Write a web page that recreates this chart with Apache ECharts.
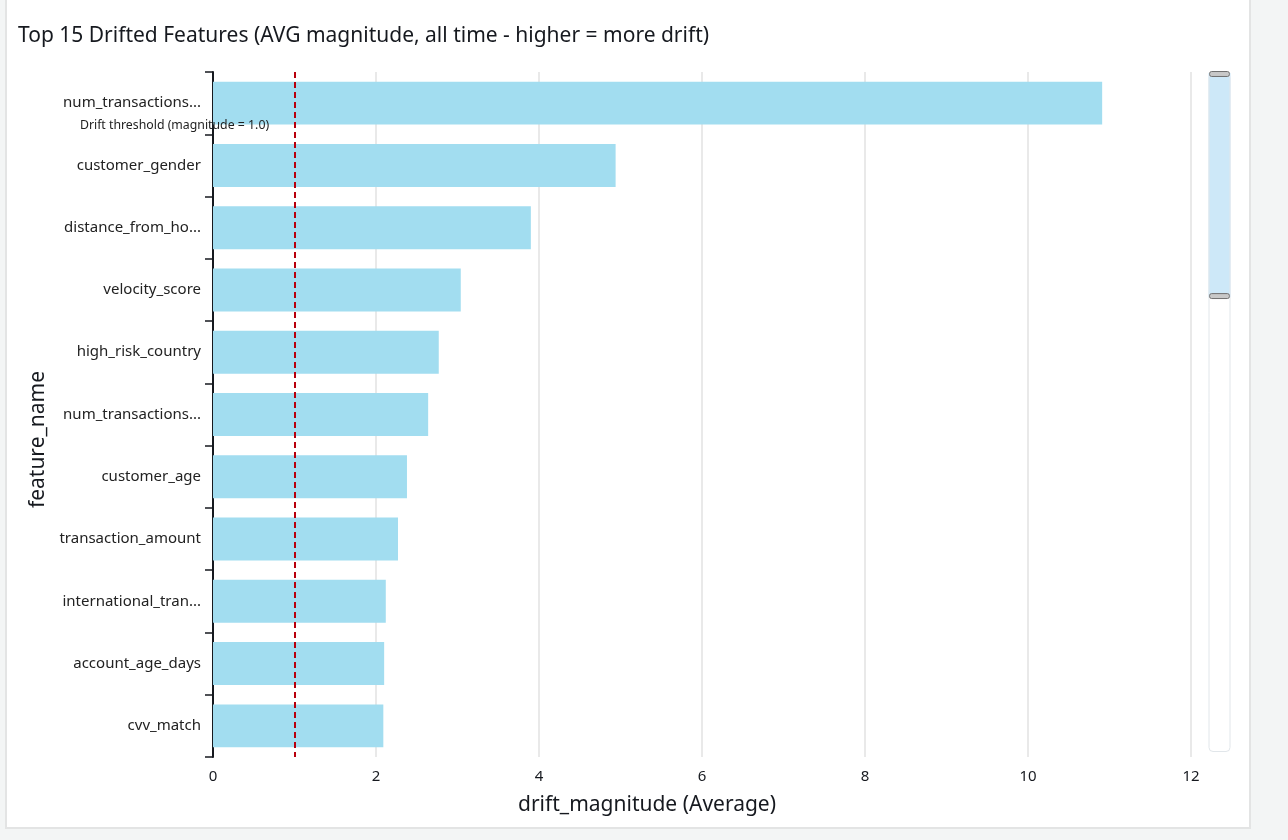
<!DOCTYPE html>
<html>
<head>
<meta charset="utf-8">
<script src="https://cdn.jsdelivr.net/npm/echarts@6/dist/echarts.min.js"></script>
<style>
  html, body { margin: 0; padding: 0; background: #f3f5f5; }
  #panel { position: absolute; left: 5px; top: -2px; width: 1242px; height: 827px;
           border: 2px solid #e3e4e4; background: #fff; }
  #main { position: absolute; left: 0; top: 0; width: 1288px; height: 840px; }
</style>
</head>
<body>
<div id="panel"></div>
<div id="main"></div>
<script>
// feature names, highest drift first
const features = [
  'num_transactions_last_24h',
  'customer_gender',
  'distance_from_home',
  'velocity_score',
  'high_risk_country',
  'num_transactions_last_7d',
  'customer_age',
  'transaction_amount',
  'international_transaction',
  'account_age_days',
  'cvv_match'
];
// average drift magnitude
const magnitude = [10.91, 4.94, 3.90, 3.04, 2.77, 2.64, 2.38, 2.27, 2.12, 2.10, 2.09];
const threshold = 1.0;
const xTicks = { min: 0, max: 12, interval: 2 };

const textColor = '#16191f';
const font = 'Noto Sans';

let chart = echarts.init(document.getElementById('main'), null, { renderer: 'canvas' });

let option = {
  animation: false,
  textStyle: { fontFamily: font },
  title: {
    text: 'Top 15 Drifted Features (AVG magnitude, all time - higher = more drift)',
    left: 13,
    top: 21,
    textStyle: { fontSize: 21, fontWeight: 'normal', color: textColor, fontFamily: font }
  },
  grid: { left: 213, right: 97, top: 72, bottom: 83 },
  xAxis: {
    type: 'value',
    min: xTicks.min,
    max: xTicks.max,
    interval: xTicks.interval,
    name: 'drift_magnitude (Average)',
    nameLocation: 'middle',
    nameGap: 38,
    nameTextStyle: { fontSize: 21, color: textColor, padding: [0, 110, 0, 0] },
    axisLine: { show: false },
    axisTick: { show: false },
    axisLabel: { fontSize: 15, color: textColor, margin: 12 },
    splitLine: {
      show: true,
      lineStyle: { color: '#e2e2e2', width: 1.5 },
      showMinLine: false
    }
  },
  yAxis: [
    {
      type: 'category',
      inverse: true,
      data: features,
      name: 'feature_name',
      nameLocation: 'middle',
      nameGap: 163,
      nameTextStyle: { fontSize: 21, color: textColor, padding: [0, 50, 0, 0] },
      axisLine: { show: true, lineStyle: { color: textColor, width: 2 } },
      axisTick: { show: true, length: 8, lineStyle: { color: textColor, width: 1.5 } },
      axisLabel: {
        fontSize: 15, color: '#222', margin: 12,
        width: 145, overflow: 'truncate', ellipsis: '...'
      }
    },
    {
      // helper axis only driving the scroll bar
      type: 'value',
      show: false,
      min: 0,
      max: 100
    }
  ],
  dataZoom: [
    {
      type: 'slider',
      yAxisIndex: 1,
      orient: 'vertical',
      start: 67,
      end: 100,
      right: 58,
      width: 22,
      top: 73,
      bottom: 88,
      showDetail: false,
      showDataShadow: false,
      brushSelect: false,
      moveHandleSize: 0,
      zoomLock: true,
      backgroundColor: '#fff',
      borderColor: '#e1e6ea',
      borderRadius: 4,
      fillerColor: 'rgba(164, 214, 242, 0.55)',
      dataBackground: { lineStyle: { opacity: 0 }, areaStyle: { opacity: 0 } },
      handleIcon: 'path://M2,0h1a2,2,0,0,1,2,2v16a2,2,0,0,1-2,2h-1a2,2,0,0,1-2-2v-16a2,2,0,0,1,2-2z',
      handleSize: '90%',
      handleStyle: { color: '#c8c8c8', borderColor: '#6f6f6f', borderWidth: 1 }
    }
  ],
  series: [
    {
      type: 'bar',
      data: magnitude,
      barCategoryGap: '31%',
      itemStyle: { color: '#a2ddf0' },
      markLine: {
        silent: true,
        symbol: 'none',
        lineStyle: { color: '#b8000d', type: [6, 4], width: 2 },
        label: { show: false },
        data: [{ xAxis: threshold }]
      },
      markPoint: {
        silent: true,
        symbol: 'circle',
        symbolSize: 0,
        label: {
          show: true,
          position: 'inside',
          offset: [-120, 22],
          formatter: 'Drift threshold (magnitude = ' + threshold.toFixed(1) + ')',
          fontSize: 12.3,
          color: '#222'
        },
        data: [{ coord: [threshold, 0] }]
      }
    }
  ]
};

chart.setOption(option);
</script>
</body>
</html>
